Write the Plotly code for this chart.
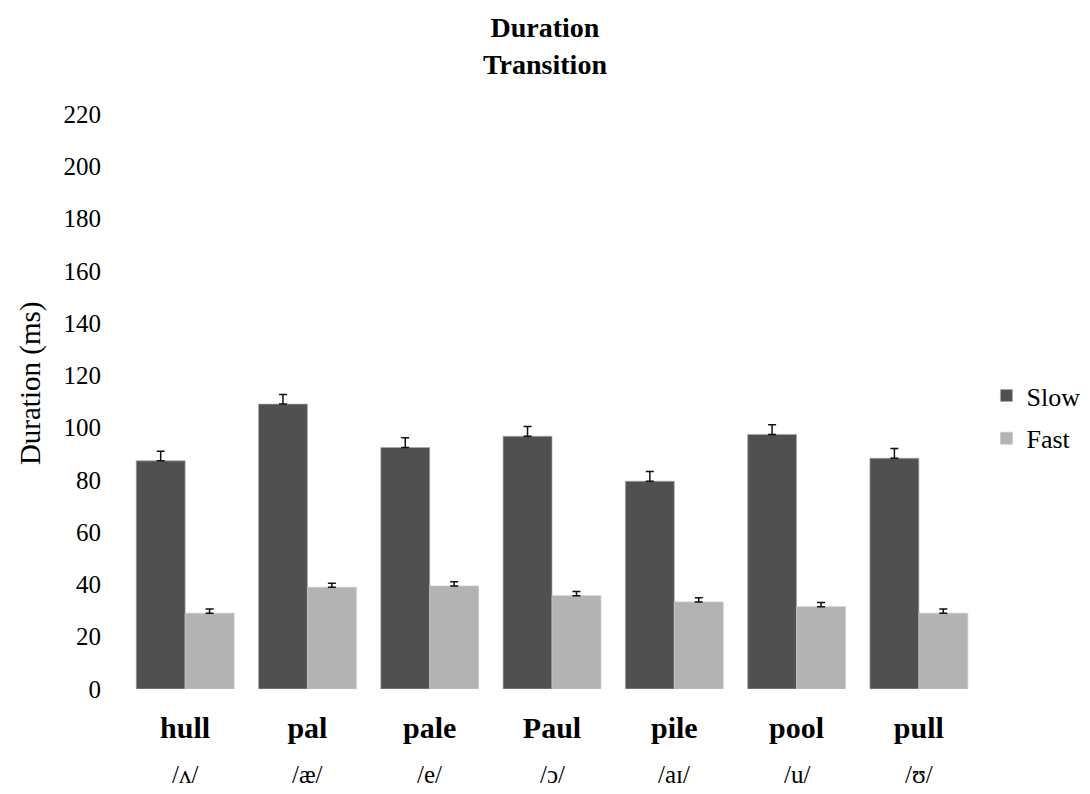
import plotly.graph_objects as go

words = ["hull", "pal", "pale", "Paul", "pile", "pool", "pull"]
ipa = ["/ʌ/", "/æ/", "/e/", "/ɔ/", "/aɪ/", "/u/", "/ʊ/"]
slow = [87.3, 109.0, 92.4, 96.7, 79.5, 97.4, 88.3]
fast = [29.0, 38.9, 39.4, 35.7, 33.3, 31.5, 29.0]
slow_err = [3.7, 3.7, 3.7, 3.7, 3.7, 3.7, 3.7]
fast_err = [1.6, 1.6, 1.6, 1.6, 1.6, 1.6, 1.6]
y_ticks = list(range(0, 221, 20))

FONT = "Liberation Serif"

fig = go.Figure()
fig.add_trace(go.Bar(
    name="Slow", x=words, y=slow, legendgroup="a",
    marker=dict(color="#505050", line=dict(color="rgba(170,170,170,0.7)", width=1)),
    error_y=dict(type="data", array=slow_err, symmetric=False, arrayminus=[0]*7,
                 color="#111111", thickness=1.5, width=4),
))
fig.add_trace(go.Bar(
    name="Fast", x=words, y=fast, legendgroup="b",
    marker=dict(color="#b3b3b3", line=dict(color="rgba(200,200,200,0.7)", width=1)),
    error_y=dict(type="data", array=fast_err, symmetric=False, arrayminus=[0]*7,
                 color="#111111", thickness=1.5, width=4),
))

for w, p in zip(words, ipa):
    fig.add_annotation(x=w, xref="x", y=-0.122, yref="paper", yanchor="top",
                       text=p, showarrow=False,
                       font=dict(family=FONT, size=25, color="#000"))

fig.add_annotation(x=(30 - 124) / 856, xref="paper", y=0.532, yref="paper",
                   text="Duration (ms)", textangle=-90, showarrow=False,
                   xanchor="center", yanchor="middle",
                   font=dict(family=FONT, size=29, color="#000"))

fig.update_layout(
    width=1090, height=794,
    margin=dict(l=124, r=110, t=114, b=105, autoexpand=False),
    paper_bgcolor="white", plot_bgcolor="white",
    barmode="group", bargap=0.2, bargroupgap=0,
    font=dict(family=FONT, color="#000"),
    title=dict(text="<b>Duration<br>Transition</b>", x=0.5, xanchor="center",
               y=0.953, yanchor="top", font=dict(family=FONT, size=28, color="#000")),
    legend=dict(x=0.905, xref="container", y=0.473, yanchor="middle", xanchor="left",
                font=dict(family=FONT, size=26, color="#000"),
                traceorder="grouped", tracegroupgap=6, itemwidth=30,
                bgcolor="rgba(0,0,0,0)"),
    xaxis=dict(tickvals=words, ticktext=["<b>" + w + "</b>" for w in words],
               tickfont=dict(family=FONT, size=30, color="#000"),
               showline=False, showgrid=False, ticks="", ticklabelstandoff=18),
    yaxis=dict(range=[0, 220], tickvals=y_ticks, ticktext=[str(v) for v in y_ticks],
               tickfont=dict(family=FONT, size=25, color="#000"),
               showgrid=False, showline=False, zeroline=False, ticks="",
               ticklabelstandoff=22),
)

fig.write_html("out.html")
